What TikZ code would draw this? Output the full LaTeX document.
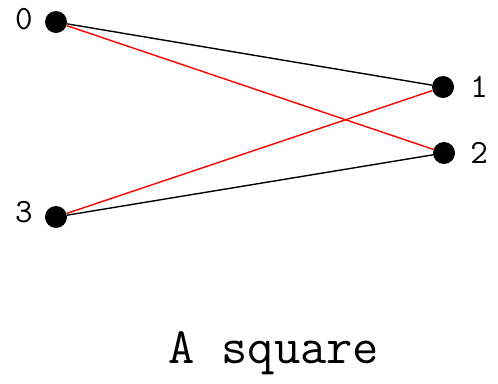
\documentclass[tikz,border=0pt]{standalone}
\usepackage{xcolor}
\usetikzlibrary{positioning}

\begin{document}
\begin{tikzpicture}[x=1pt, y=-1pt,
    vert/.style={circle, fill=black, inner sep=0pt, minimum size=22pt},
    vlabel/.style={font=\ttfamily\fontsize{34}{34}\selectfont},
    edge/.style={line width=1.4pt}]
  \useasboundingbox (0,0) rectangle (498,383);
  \foreach \n/\x/\y in {0/56/22, 1/443/87, 2/444/153, 3/56/217}{
    \node[vert] (v\n) at (\x,\y) {};
  }
  \node[vlabel] (l0) at (24,19) {0};
  \node[vlabel] (l1) at (479,87) {1};
  \node[vlabel] (l2) at (479,153) {2};
  \node[vlabel] (l3) at (24,212) {3};
  \draw[edge, black] (v0) -- (v1);
  \draw[edge, red] (v0) -- (v2);
  \draw[edge, red] (v3) -- (v1);
  \draw[edge, black] (v3) -- (v2);
  \node[font=\ttfamily\fontsize{51}{51}\selectfont] (cap) at (274,353) {A square};
\end{tikzpicture}
\end{document}
